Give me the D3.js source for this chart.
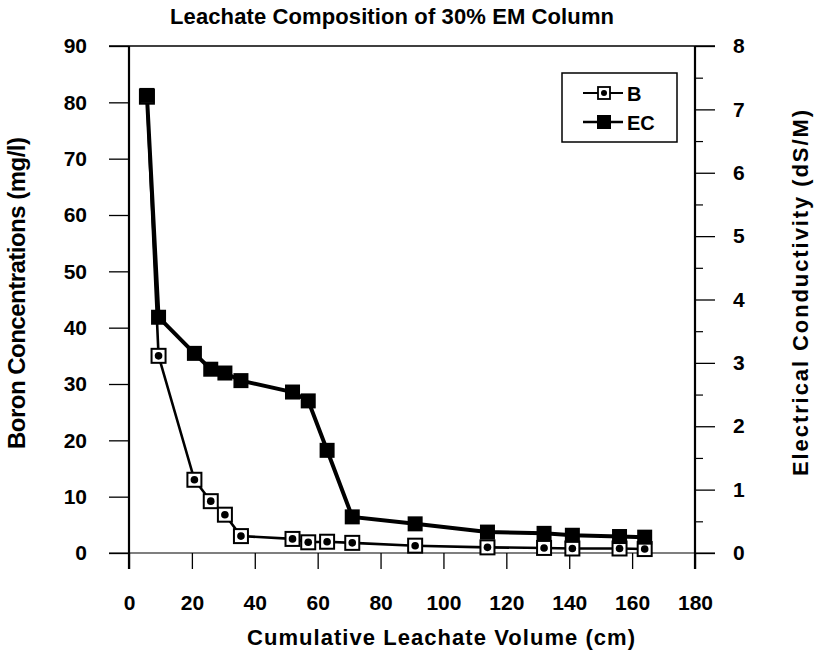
<!DOCTYPE html>
<html>
<head>
<meta charset="utf-8">
<script src="https://cdn.jsdelivr.net/npm/d3@7"></script>
<style>
  html, body { margin: 0; padding: 0; background: #fff; }
  svg { display: block; }
  text { font-family: "Liberation Sans", Arial, sans-serif; font-weight: bold; fill: #000; }
</style>
</head>
<body>
<svg id="chart" width="814" height="653"></svg>
<script>
// ---- data ----
const volume = [5.7, 9.4, 20.8, 26, 30.5, 35.6, 52, 57, 63, 71, 91, 114, 132, 141, 156, 164];
const boron  = [81, 35, 13, 9.2, 6.8, 3.0, 2.5, 1.9, 2.0, 1.8, 1.3, 1.0, 0.9, 0.8, 0.8, 0.7];
const ec     = [7.22, 3.72, 3.15, 2.9, 2.84, 2.72, 2.54, 2.4, 1.62, 0.57, 0.46, 0.33, 0.31, 0.28, 0.26, 0.25];
const xTicks = [0, 20, 40, 60, 80, 100, 120, 140, 160, 180];
const yLeftTicks = [0, 10, 20, 30, 40, 50, 60, 70, 80, 90];
const yRightTicks = [0, 1, 2, 3, 4, 5, 6, 7, 8];
const yRightMinor = [0.5, 1.5, 2.5, 3.5, 4.5, 5.5, 6.5, 7.5];
const seriesNames = ["B", "EC"];
const titleText = "Leachate Composition of 30% EM Column";
const xTitle = "Cumulative Leachate Volume (cm)";
const yLeftTitle = "Boron Concentrations (mg/l)";
const yRightTitle = "Electrical Conductivity (dS/M)";

// ---- layout ----
const L = 129, R = 695, T = 46, B = 553;
const svg = d3.select("#chart");
const x = d3.scaleLinear().domain([0, 180]).range([L, R]);
const yL = d3.scaleLinear().domain([0, 90]).range([B, T]);
const yR = d3.scaleLinear().domain([0, 8]).range([B, T]);

function styleAxis(g, fs) {
  g.select(".domain").remove();
  g.selectAll(".tick line").attr("stroke", "#000").attr("stroke-width", 1.3);
  g.selectAll(".tick text").attr("font-size", fs)
    .style("font-family", '"Liberation Sans", Arial, sans-serif').style("font-weight", "bold");
}

// frame lines
svg.append("line").attr("x1", 109).attr("x2", 715).attr("y1", T).attr("y2", T).attr("stroke", "#000").attr("stroke-width", 1.5);
svg.append("line").attr("x1", L).attr("x2", L).attr("y1", T).attr("y2", 569).attr("stroke", "#000").attr("stroke-width", 2.2);
svg.append("line").attr("x1", R).attr("x2", R).attr("y1", T).attr("y2", 569).attr("stroke", "#000").attr("stroke-width", 2.2);
svg.append("line").attr("x1", 109).attr("x2", 715).attr("y1", B).attr("y2", B).attr("stroke", "#000").attr("stroke-width", 1.2);

// left axis
const gL = svg.append("g").attr("transform", `translate(${L},0)`)
  .call(d3.axisLeft(yL).tickValues(yLeftTicks).tickSize(20).tickPadding(22).tickFormat(d3.format("d")));
styleAxis(gL, 21);

// right axis
const gR = svg.append("g").attr("transform", `translate(${R},0)`)
  .call(d3.axisRight(yR).tickValues(yRightTicks).tickSize(20).tickPadding(18).tickFormat(d3.format("d")));
styleAxis(gR, 21);
const gRm = svg.append("g").attr("transform", `translate(${R},0)`)
  .call(d3.axisRight(yR).tickValues(yRightMinor).tickSize(8).tickFormat(""));
gRm.select(".domain").remove();
gRm.selectAll(".tick line").attr("stroke", "#000").attr("stroke-width", 1.2);

// bottom axis
const gB = svg.append("g").attr("transform", `translate(0,${B})`)
  .call(d3.axisBottom(x).tickValues(xTicks).tickSize(16).tickPadding(26).tickFormat(d3.format("d")));
styleAxis(gB, 21);

// titles
svg.append("text").attr("x", 392).attr("y", 24).attr("text-anchor", "middle")
  .attr("font-size", 22).attr("textLength", 444).attr("lengthAdjust", "spacing").text(titleText);
svg.append("text").attr("x", 441).attr("y", 645).attr("text-anchor", "middle")
  .attr("font-size", 22).attr("textLength", 388).attr("lengthAdjust", "spacing").text(xTitle);
svg.append("text").attr("transform", "translate(25,293) rotate(-90)").attr("text-anchor", "middle")
  .attr("font-size", 24).attr("textLength", 312).attr("lengthAdjust", "spacing").text(yLeftTitle);
svg.append("text").attr("transform", "translate(808,293) rotate(-90)").attr("text-anchor", "middle")
  .attr("font-size", 22).attr("textLength", 366).attr("lengthAdjust", "spacing").text(yRightTitle);

// data
const bData = volume.map((v, i) => ({ x: v, y: boron[i] }));
const eData = volume.map((v, i) => ({ x: v, y: ec[i] }));

// B series
svg.append("path").datum(bData)
  .attr("d", d3.line().x(d => x(d.x)).y(d => yL(d.y)))
  .attr("fill", "none").attr("stroke", "#000").attr("stroke-width", 2.6);
// EC series
svg.append("path").datum(eData)
  .attr("d", d3.line().x(d => x(d.x)).y(d => yR(d.y)))
  .attr("fill", "none").attr("stroke", "#000").attr("stroke-width", 4);

const bm = svg.append("g").selectAll("g").data(bData).join("g")
  .attr("transform", d => `translate(${x(d.x)},${yL(d.y)})`);
bm.append("rect").attr("x", -7).attr("y", -7).attr("width", 14).attr("height", 14)
  .attr("fill", "#fff").attr("stroke", "#000").attr("stroke-width", 2);
bm.append("circle").attr("r", 3.8).attr("fill", "#000");

svg.append("g").selectAll("rect").data(eData).join("rect")
  .attr("x", d => x(d.x) - 7.5).attr("y", d => yR(d.y) - 7.5)
  .attr("width", 15).attr("height", 15).attr("fill", "#000");

// legend
const lg = svg.append("g");
lg.append("rect").attr("x", 562).attr("y", 73).attr("width", 115).attr("height", 69)
  .attr("fill", "#fff").attr("stroke", "#000").attr("stroke-width", 1.5);
const rows = [93, 122];
seriesNames.forEach((name, i) => {
  const yy = rows[i];
  lg.append("line").attr("x1", 583).attr("x2", 623).attr("y1", yy).attr("y2", yy)
    .attr("stroke", "#000").attr("stroke-width", i === 0 ? 1.8 : 2.6);
  if (i === 0) {
    lg.append("rect").attr("x", 598).attr("y", yy - 6).attr("width", 12).attr("height", 12)
      .attr("fill", "#fff").attr("stroke", "#000").attr("stroke-width", 1.8);
    lg.append("circle").attr("cx", 604).attr("cy", yy).attr("r", 3).attr("fill", "#000");
  } else {
    lg.append("rect").attr("x", 597).attr("y", yy - 7).attr("width", 14).attr("height", 14).attr("fill", "#000");
  }
  lg.append("text").attr("x", 627).attr("y", yy + 7.5).attr("font-size", 20).text(name);
});
</script>
</body>
</html>
